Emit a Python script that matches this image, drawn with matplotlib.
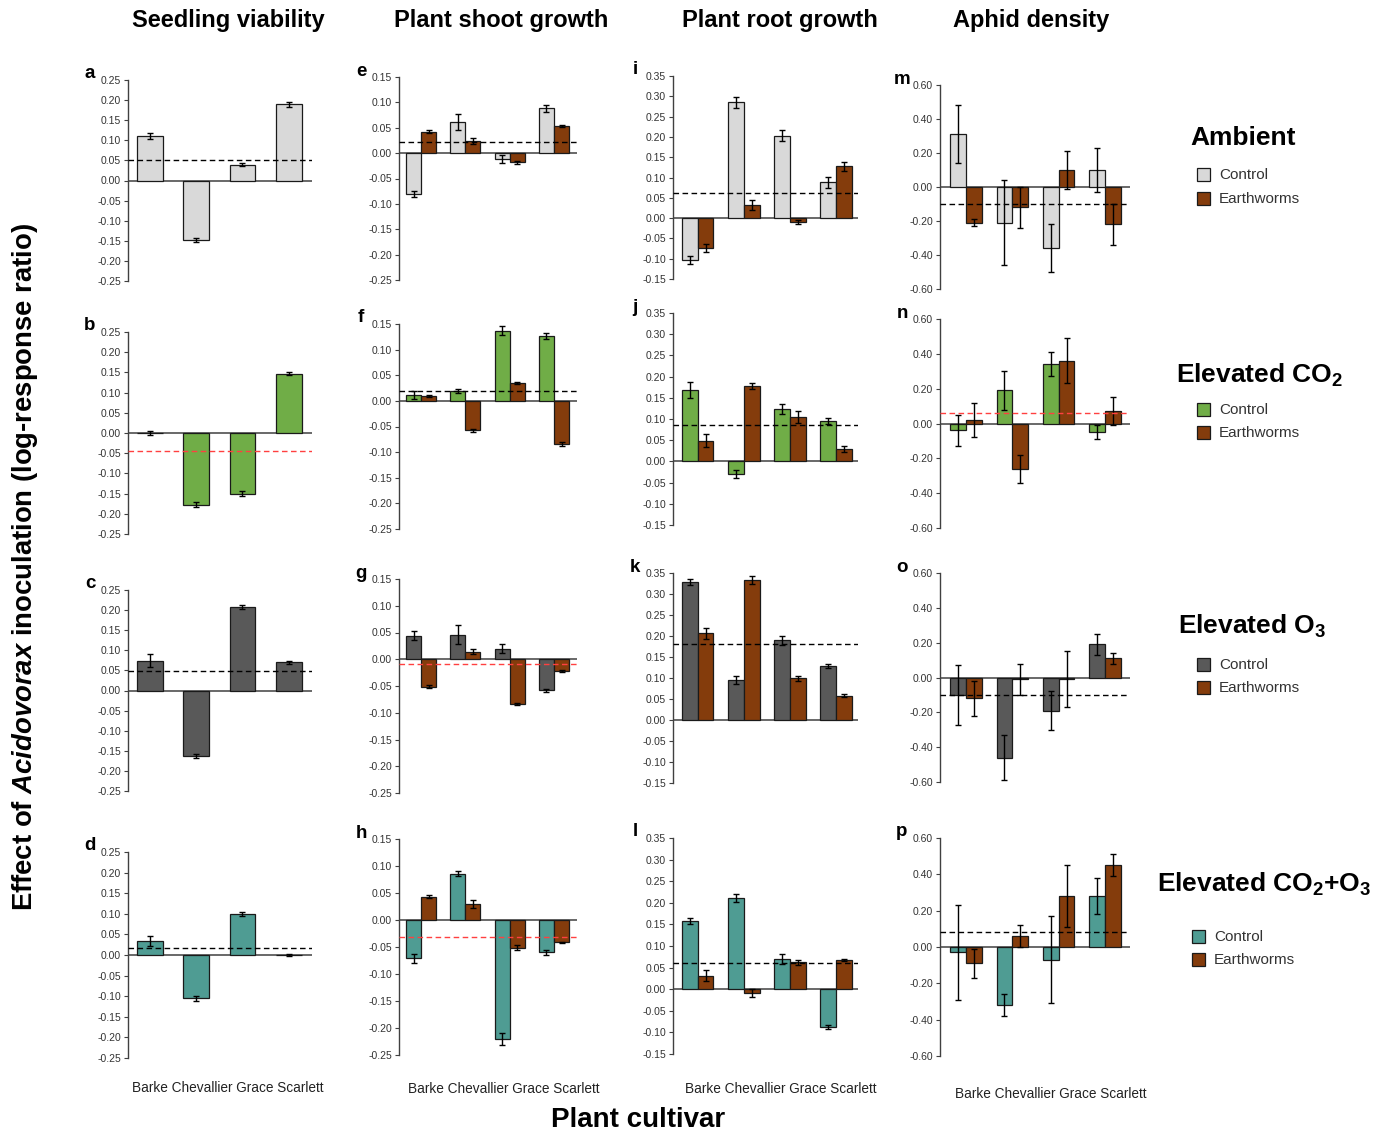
import numpy as np
import matplotlib
matplotlib.use('Agg')
import matplotlib.pyplot as plt
from matplotlib.patches import Rectangle

plt.rcParams['font.family'] = ['Liberation Sans', 'DejaVu Sans']
plt.rcParams['mathtext.fontset'] = 'custom'
plt.rcParams['mathtext.rm'] = 'Liberation Sans:bold'
plt.rcParams['mathtext.it'] = 'Liberation Sans:italic:bold'
plt.rcParams['mathtext.bf'] = 'Liberation Sans:bold'

# === DATA ===
cultivars = ['Barke', 'Chevallier', 'Grace', 'Scarlett']

# Seedling viability (control only)
seed_amb = [0.110, -0.148, 0.039, 0.190]
seed_amb_err = [0.008, 0.006, 0.004, 0.006]
seed_co2 = [0.000, -0.177, -0.150, 0.147]
seed_co2_err = [0.005, 0.007, 0.007, 0.003]
seed_o3 = [0.074, -0.162, 0.207, 0.070]
seed_o3_err = [0.016, 0.005, 0.005, 0.004]
seed_both = [0.033, -0.105, 0.100, 0.000]
seed_both_err = [0.012, 0.006, 0.005, 0.003]
seed_ref = [0.051, -0.044, 0.048, 0.016]

# Plant shoot growth
shoot_amb_ctrl = [-0.081, 0.062, -0.012, 0.088]
shoot_amb_ctrl_err = [0.006, 0.016, 0.008, 0.007]
shoot_amb_worm = [0.042, 0.023, -0.018, 0.054]
shoot_amb_worm_err = [0.003, 0.006, 0.003, 0.002]
shoot_co2_ctrl = [0.012, 0.019, 0.137, 0.126]
shoot_co2_ctrl_err = [0.008, 0.004, 0.009, 0.006]
shoot_co2_worm = [0.009, -0.057, 0.034, -0.084]
shoot_co2_worm_err = [0.002, 0.003, 0.002, 0.004]
shoot_o3_ctrl = [0.044, 0.046, 0.020, -0.058]
shoot_o3_ctrl_err = [0.008, 0.018, 0.009, 0.003]
shoot_o3_worm = [-0.051, 0.014, -0.083, -0.022]
shoot_o3_worm_err = [0.002, 0.005, 0.002, 0.001]
shoot_both_ctrl = [-0.071, 0.086, -0.220, -0.060]
shoot_both_ctrl_err = [0.008, 0.005, 0.011, 0.004]
shoot_both_worm = [0.043, 0.030, -0.051, -0.041]
shoot_both_worm_err = [0.003, 0.007, 0.004, 0.001]
shoot_ref = [0.021, 0.020, -0.008, -0.031]

# Plant root growth
root_amb_ctrl = [-0.103, 0.285, 0.203, 0.088]
root_amb_ctrl_err = [0.009, 0.013, 0.013, 0.014]
root_amb_worm = [-0.074, 0.033, -0.009, 0.128]
root_amb_worm_err = [0.010, 0.012, 0.005, 0.011]
root_co2_ctrl = [0.168, -0.030, 0.123, 0.096]
root_co2_ctrl_err = [0.019, 0.010, 0.012, 0.007]
root_co2_worm = [0.049, 0.177, 0.104, 0.030]
root_co2_worm_err = [0.016, 0.007, 0.014, 0.007]
root_o3_ctrl = [0.328, 0.095, 0.190, 0.129]
root_o3_ctrl_err = [0.007, 0.010, 0.011, 0.005]
root_o3_worm = [0.206, 0.333, 0.099, 0.058]
root_o3_worm_err = [0.014, 0.010, 0.006, 0.004]
root_both_ctrl = [0.158, 0.211, 0.070, -0.087]
root_both_ctrl_err = [0.007, 0.009, 0.012, 0.005]
root_both_worm = [0.031, -0.009, 0.062, 0.068]
root_both_worm_err = [0.013, 0.010, 0.006, 0.003]
root_ref = [0.061, 0.085, 0.180, 0.060]

# Aphid density
aphid_amb_ctrl = [0.31, -0.21, -0.36, 0.10]
aphid_amb_ctrl_err = [0.17, 0.25, 0.14, 0.13]
aphid_amb_worm = [-0.21, -0.12, 0.10, -0.22]
aphid_amb_worm_err = [0.02, 0.12, 0.11, 0.12]
aphid_co2_ctrl = [-0.04, 0.19, 0.34, -0.05]
aphid_co2_ctrl_err = [0.09, 0.11, 0.07, 0.04]
aphid_co2_worm = [0.02, -0.26, 0.36, 0.07]
aphid_co2_worm_err = [0.10, 0.08, 0.13, 0.08]
aphid_o3_ctrl = [-0.10, -0.46, -0.19, 0.19]
aphid_o3_ctrl_err = [0.17, 0.13, 0.11, 0.06]
aphid_o3_worm = [-0.12, -0.01, -0.01, 0.11]
aphid_o3_worm_err = [0.10, 0.09, 0.16, 0.03]
aphid_both_ctrl = [-0.03, -0.32, -0.07, 0.28]
aphid_both_ctrl_err = [0.26, 0.06, 0.24, 0.10]
aphid_both_worm = [-0.09, 0.06, 0.28, 0.45]
aphid_both_worm_err = [0.08, 0.06, 0.17, 0.06]
aphid_ref = [-0.10, 0.06, -0.10, 0.08]

col_titles = ['Seedling viability', 'Plant shoot growth', 'Plant root growth', 'Aphid density']
row_titles = ['Ambient', r'Elevated CO$_\mathbf{2}$', r'Elevated O$_\mathbf{3}$',
              r'Elevated CO$_\mathbf{2}$+O$_\mathbf{3}$']
ref_red = [[False, True, False, False],
           [False, False, True, True],
           [False, False, False, False],
           [False, True, False, False]]   # [col][row]

# === STYLE ===
ctrl_colors = ['#d9d9d9', '#70ad47', '#595959', '#4f9c93']
worm_color = '#843c0c'
W, H = 1392, 1138

# column geometry in pixels: left spine, right end, xlim
col_geom = [(128, 312, -0.47, 3.50),
            (399, 577, -0.50, 3.52),
            (673, 858, -0.54, 3.48),
            (940, 1130, -0.56, 3.54)]
# (top, bottom) pixel per row for each column
row_geom = [[(80, 281), (332, 534), (590, 791), (852, 1058)],
            [(77, 280), (324, 529), (579, 793), (839, 1055)],
            [(76, 279), (313, 525), (573, 783), (838, 1054)],
            [(85, 289), (319, 528), (573, 782), (838, 1056)]]
ylims = [(-0.25, 0.25, 0.05), (-0.25, 0.15, 0.05), (-0.15, 0.35, 0.05), (-0.60, 0.60, 0.20)]
letters = 'abcdefghijklmnop'
# where the cultivar names sit under the bottom row (centre x, y in px)
cult_label_xy = [(228, 1088), (504, 1089), (781, 1089), (1051, 1094)]

ctrl_data = [[seed_amb, seed_co2, seed_o3, seed_both],
             [shoot_amb_ctrl, shoot_co2_ctrl, shoot_o3_ctrl, shoot_both_ctrl],
             [root_amb_ctrl, root_co2_ctrl, root_o3_ctrl, root_both_ctrl],
             [aphid_amb_ctrl, aphid_co2_ctrl, aphid_o3_ctrl, aphid_both_ctrl]]
ctrl_err = [[seed_amb_err, seed_co2_err, seed_o3_err, seed_both_err],
            [shoot_amb_ctrl_err, shoot_co2_ctrl_err, shoot_o3_ctrl_err, shoot_both_ctrl_err],
            [root_amb_ctrl_err, root_co2_ctrl_err, root_o3_ctrl_err, root_both_ctrl_err],
            [aphid_amb_ctrl_err, aphid_co2_ctrl_err, aphid_o3_ctrl_err, aphid_both_ctrl_err]]
worm_data = [None,
             [shoot_amb_worm, shoot_co2_worm, shoot_o3_worm, shoot_both_worm],
             [root_amb_worm, root_co2_worm, root_o3_worm, root_both_worm],
             [aphid_amb_worm, aphid_co2_worm, aphid_o3_worm, aphid_both_worm]]
worm_err = [None,
            [shoot_amb_worm_err, shoot_co2_worm_err, shoot_o3_worm_err, shoot_both_worm_err],
            [root_amb_worm_err, root_co2_worm_err, root_o3_worm_err, root_both_worm_err],
            [aphid_amb_worm_err, aphid_co2_worm_err, aphid_o3_worm_err, aphid_both_worm_err]]
refs = [seed_ref, shoot_ref, root_ref, aphid_ref]

fig = plt.figure(figsize=(W / 100, H / 100), dpi=100)
x = np.arange(len(cultivars))
ekw = dict(ecolor='black', elinewidth=1, capsize=2.2, capthick=1)

for c in range(4):
    left, right, x0, x1 = col_geom[c]
    ymin, ymax, step = ylims[c]
    for r in range(4):
        top, bot = row_geom[c][r]
        ax = fig.add_axes([left / W, 1 - bot / H, (right - left) / W, (bot - top) / H])
        if worm_data[c] is None:
            ax.bar(x, ctrl_data[c][r], 0.56, yerr=ctrl_err[c][r], color=ctrl_colors[r],
                   edgecolor='#1a1a1a', linewidth=0.9, error_kw=ekw, zorder=2)
        else:
            ax.bar(x - 0.17, ctrl_data[c][r], 0.34, yerr=ctrl_err[c][r], color=ctrl_colors[r],
                   edgecolor='#1a1a1a', linewidth=0.9, error_kw=ekw, zorder=2)
            ax.bar(x + 0.17, worm_data[c][r], 0.34, yerr=worm_err[c][r], color=worm_color,
                   edgecolor='#1a1a1a', linewidth=0.9, error_kw=ekw, zorder=2)
        ax.axhline(0, color='#404040', lw=1.1, zorder=1)
        ax.axhline(refs[c][r], color='#ff4040' if ref_red[c][r] else 'black',
                   ls=(0, (4, 2.5)), lw=1.0, zorder=3)
        ax.set_xlim(x0, x1)
        ax.set_ylim(ymin, ymax)
        yt = np.arange(ymin, ymax + step / 2, step)
        ax.set_yticks(yt)
        ax.set_yticklabels(['%.2f' % v if abs(v) > 1e-9 else '0.00' for v in yt],
                           fontsize=7.5, color='#333333')
        ax.tick_params(axis='y', length=3, width=0.8, color='#404040', pad=2)
        ax.set_xticks([])
        for s in ['top', 'right', 'bottom']:
            ax.spines[s].set_visible(False)
        ax.spines['left'].set_color('#404040')
        ax.spines['left'].set_linewidth(1.0)
        ax.patch.set_alpha(0)
        fig.text((left - 38) / W, 1 - (top - 6) / H, letters[c * 4 + r],
                 fontsize=13.5, fontweight='bold', ha='center', va='center')
    # cultivar names under the bottom panel, written as one line
    lx, ly = cult_label_xy[c]
    fig.text(lx / W, 1 - ly / H, ' '.join(cultivars), fontsize=9.8, color='#222222',
             ha='center', va='center')

# column titles
for c, t in enumerate(col_titles):
    fig.text([228, 501, 780, 1031][c] / W, 1 - 20 / H, t, fontsize=17,
             fontweight='bold', ha='center', va='center')

# treatment legends on the right
leg_title_xy = [(1243, 138), (1260, 375), (1252, 626), (1264, 884)]
leg_items_y = [(175, 199), (410, 433), (665, 688), (937, 960)]
leg_box_x = [1197, 1197, 1197, 1192]
for r in range(4):
    tx, ty = leg_title_xy[r]
    fig.text(tx / W, 1 - ty / H, row_titles[r], fontsize=19, fontweight='bold',
             ha='center', va='center')
    for k, (lab, col) in enumerate([('Control', ctrl_colors[r]), ('Earthworms', worm_color)]):
        yy = leg_items_y[r][k]
        bx = leg_box_x[r]
        fig.add_artist(Rectangle((bx / W, 1 - (yy + 6) / H), 13 / W, 13 / H,
                                 transform=fig.transFigure, facecolor=col,
                                 edgecolor='#1a1a1a', linewidth=0.9))
        fig.text((bx + 22) / W, 1 - yy / H, lab, fontsize=11, color='#333333',
                 ha='left', va='center')

fig.text(25 / W, 1 - 567 / H,
         r'Effect of $Acidovorax$ inoculation (log-response ratio)',
         rotation=90, fontsize=19.8, fontweight='bold', ha='center', va='center')
fig.text(638 / W, 1 - 1120 / H, 'Plant cultivar', fontsize=20, fontweight='bold',
         ha='center', va='center')

fig.savefig('out.png', dpi=100)
